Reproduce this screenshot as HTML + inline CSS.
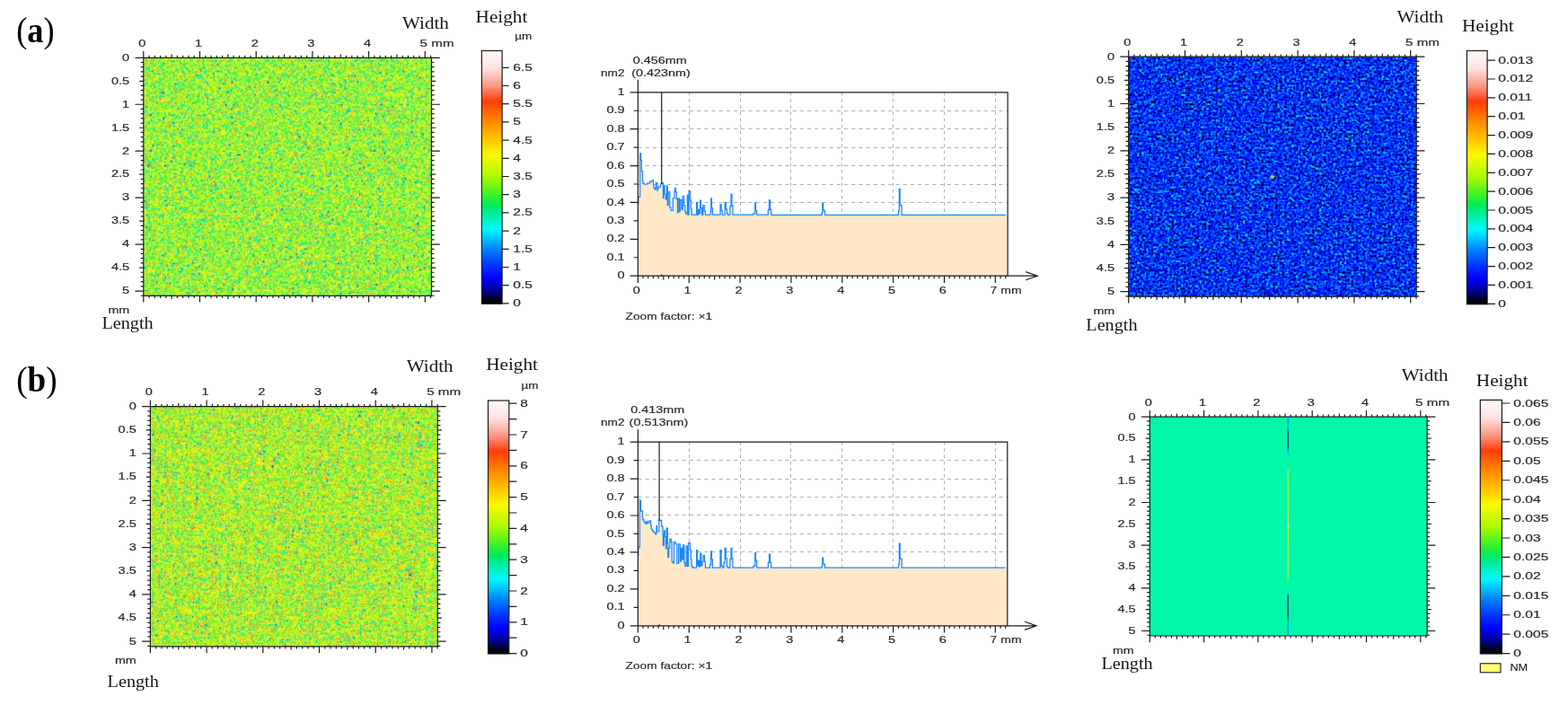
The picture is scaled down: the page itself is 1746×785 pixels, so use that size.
<!DOCTYPE html>
<html lang="en"><head><meta charset="utf-8"><title>Figure</title>
<style>
html,body{margin:0;padding:0;background:#fff;}
body{width:1746px;height:785px;overflow:hidden;}
svg{display:block;}
.t{font-family:"Liberation Sans",sans-serif;font-size:10.4px;fill:#2a2a2a;stroke:#2a2a2a;stroke-width:.18px;}
.s{font-family:"Liberation Serif",serif;font-size:18.7px;fill:#161616;}
.b{font-family:"Liberation Serif",serif;font-weight:bold;font-size:40px;fill:#000;}
.p{font-family:"Liberation Serif",serif;font-size:40px;fill:#000;}
.ax{stroke:#1c1c1c;stroke-width:1.2;fill:none;}
.gr{stroke:#b0b0b0;stroke-width:1;fill:none;}
</style></head><body>
<svg width="1746" height="785" viewBox="0 0 1746 785">
<defs>
<linearGradient id="jet" x1="0" y1="1" x2="0" y2="0">
<stop offset="0.0" stop-color="rgb(0,0,0)"/>
<stop offset="0.02" stop-color="rgb(0,0,30)"/>
<stop offset="0.05" stop-color="rgb(0,0,140)"/>
<stop offset="0.1" stop-color="rgb(0,0,255)"/>
<stop offset="0.14" stop-color="rgb(0,40,255)"/>
<stop offset="0.215" stop-color="rgb(0,130,255)"/>
<stop offset="0.295" stop-color="rgb(0,250,250)"/>
<stop offset="0.36" stop-color="rgb(0,235,150)"/>
<stop offset="0.39" stop-color="rgb(0,235,90)"/>
<stop offset="0.43" stop-color="rgb(60,240,40)"/>
<stop offset="0.5" stop-color="rgb(170,250,0)"/>
<stop offset="0.588" stop-color="rgb(250,250,0)"/>
<stop offset="0.645" stop-color="rgb(255,200,0)"/>
<stop offset="0.717" stop-color="rgb(255,140,0)"/>
<stop offset="0.8" stop-color="rgb(255,60,10)"/>
<stop offset="0.86" stop-color="rgb(250,150,130)"/>
<stop offset="0.93" stop-color="rgb(255,225,225)"/>
<stop offset="1.0" stop-color="rgb(255,250,250)"/>
</linearGradient>
<filter id="nA" x="0" y="0" width="100%" height="100%" color-interpolation-filters="sRGB">
<feTurbulence type="fractalNoise" baseFrequency="0.43" numOctaves="1" seed="7"/>
<feColorMatrix type="matrix" values="0.45 0.45 0.45 0 -0.18 0.45 0.45 0.45 0 -0.18 0.45 0.45 0.45 0 -0.18 0 0 0 0 1" result="n0"/>
<feOffset in="n0" result="s0"/>
<feTurbulence type="fractalNoise" baseFrequency="0.61" numOctaves="1" seed="19"/>
<feColorMatrix type="matrix" values="0.3 0.3 0.3 0 0.05 0.3 0.3 0.3 0 0.05 0.3 0.3 0.3 0 0.05 0 0 0 0 1" result="n1"/>
<feComposite in="n1" in2="s0" operator="arithmetic" k1="0" k2="1" k3="1" k4="-0.5" result="s1"/>
<feTurbulence type="fractalNoise" baseFrequency="0.23" numOctaves="1" seed="3"/>
<feColorMatrix type="matrix" values="0.18 0.18 0.18 0 0.23 0.18 0.18 0.18 0 0.23 0.18 0.18 0.18 0 0.23 0 0 0 0 1" result="n2"/>
<feComposite in="n2" in2="s1" operator="arithmetic" k1="0" k2="1" k3="1" k4="-0.5" result="s2"/>
<feTurbulence type="fractalNoise" baseFrequency="0.12" numOctaves="1" seed="5"/>
<feColorMatrix type="matrix" values="0.07 0.07 0.07 0 0.4 0.07 0.07 0.07 0 0.4 0.07 0.07 0.07 0 0.4 0 0 0 0 1" result="n3"/>
<feComposite in="n3" in2="s2" operator="arithmetic" k1="0" k2="1" k3="1" k4="-0.5" result="s3"/>
<feComponentTransfer result="c">
<feFuncR type="table" tableValues="0 0 0 0 0 0 0 0 0 0 0 0 0 0 0 0 0 0.103 0.266 0.435 0.605 0.729 0.827 0.925 0.985 0.994 1 1 1 1 1 1 0.993 0.984 0.985 0.992 1 1 1 1 1"/>
<feFuncG type="table" tableValues="0 0 0 0 0 0 0.018 0.126 0.25 0.379 0.509 0.67 0.832 0.978 0.953 0.928 0.922 0.93 0.944 0.959 0.975 0.98 0.98 0.98 0.939 0.844 0.751 0.661 0.571 0.471 0.367 0.263 0.354 0.516 0.652 0.768 0.883 0.921 0.96 0.98 0.98"/>
<feFuncB type="table" tableValues="0 0 0 0.149 0.544 0.794 1 1 1 1 1 0.993 0.987 0.966 0.8 0.634 0.432 0.267 0.146 0.084 0.022 0 0 0 0 0 0 0 0 0.01 0.023 0.036 0.198 0.414 0.591 0.738 0.883 0.921 0.96 0.98 0.98"/>
</feComponentTransfer>
<feConvolveMatrix order="3" kernelMatrix="0 1 0 1 5 1 0 1 0" divisor="9" edgeMode="duplicate" preserveAlpha="true" result="c"/>
<feGaussianBlur in="c" stdDeviation="1.0" result="b"/>
<feColorMatrix in="c" type="matrix" values="0 0 0 0 0 0 0 0 0 0 0 0 0 0 0 .299 .587 .114 0 0" result="y"/>
<feComposite in="b" in2="y" operator="in"/>
<feColorMatrix type="matrix" values="0.78 -0.44 -0.09 0.75 0.04 -0.22 0.56 -0.09 0.75 0.015 -0.22 -0.44 0.91 0.75 0.08 0 0 0 0 1"/>
</filter>
<filter id="nB" x="0" y="0" width="100%" height="100%" color-interpolation-filters="sRGB">
<feTurbulence type="fractalNoise" baseFrequency="0.43" numOctaves="1" seed="23"/>
<feColorMatrix type="matrix" values="0.45 0.45 0.45 0 -0.18 0.45 0.45 0.45 0 -0.18 0.45 0.45 0.45 0 -0.18 0 0 0 0 1" result="n0"/>
<feOffset in="n0" result="s0"/>
<feTurbulence type="fractalNoise" baseFrequency="0.61" numOctaves="1" seed="5"/>
<feColorMatrix type="matrix" values="0.3 0.3 0.3 0 0.05 0.3 0.3 0.3 0 0.05 0.3 0.3 0.3 0 0.05 0 0 0 0 1" result="n1"/>
<feComposite in="n1" in2="s0" operator="arithmetic" k1="0" k2="1" k3="1" k4="-0.5" result="s1"/>
<feTurbulence type="fractalNoise" baseFrequency="0.23" numOctaves="1" seed="13"/>
<feColorMatrix type="matrix" values="0.18 0.18 0.18 0 0.23 0.18 0.18 0.18 0 0.23 0.18 0.18 0.18 0 0.23 0 0 0 0 1" result="n2"/>
<feComposite in="n2" in2="s1" operator="arithmetic" k1="0" k2="1" k3="1" k4="-0.5" result="s2"/>
<feTurbulence type="fractalNoise" baseFrequency="0.12" numOctaves="1" seed="2"/>
<feColorMatrix type="matrix" values="0.07 0.07 0.07 0 0.4 0.07 0.07 0.07 0 0.4 0.07 0.07 0.07 0 0.4 0 0 0 0 1" result="n3"/>
<feComposite in="n3" in2="s2" operator="arithmetic" k1="0" k2="1" k3="1" k4="-0.5" result="s3"/>
<feComponentTransfer result="c">
<feFuncR type="table" tableValues="0 0 0 0 0 0 0 0 0 0 0 0 0 0 0 0 0.088 0.25 0.42 0.59 0.72 0.818 0.916 0.984 0.993 1 1 1 1 1 1 0.994 0.985 0.984 0.992 0.999 1 1 1 1 1"/>
<feFuncG type="table" tableValues="0 0 0 0 0 0.009 0.117 0.238 0.367 0.497 0.656 0.818 0.979 0.956 0.931 0.922 0.929 0.943 0.958 0.973 0.98 0.98 0.98 0.947 0.853 0.759 0.67 0.58 0.48 0.376 0.272 0.34 0.501 0.642 0.758 0.873 0.918 0.956 0.98 0.98 0.98"/>
<feFuncB type="table" tableValues="0 0 0.115 0.508 0.772 1 1 1 1 1 0.994 0.987 0.98 0.815 0.649 0.452 0.28 0.151 0.09 0.028 0 0 0 0 0 0 0 0 0.009 0.022 0.035 0.178 0.394 0.578 0.724 0.871 0.918 0.956 0.98 0.98 0.98"/>
</feComponentTransfer>
<feConvolveMatrix order="3" kernelMatrix="0 1 0 1 5 1 0 1 0" divisor="9" edgeMode="duplicate" preserveAlpha="true" result="c"/>
<feGaussianBlur in="c" stdDeviation="1.0" result="b"/>
<feColorMatrix in="c" type="matrix" values="0 0 0 0 0 0 0 0 0 0 0 0 0 0 0 .299 .587 .114 0 0" result="y"/>
<feComposite in="b" in2="y" operator="in"/>
<feColorMatrix type="matrix" values="0.78 -0.44 -0.09 0.75 0.04 -0.22 0.56 -0.09 0.75 0.015 -0.22 -0.44 0.91 0.75 0.08 0 0 0 0 1"/>
</filter>
<filter id="nC" x="0" y="0" width="100%" height="100%" color-interpolation-filters="sRGB">
<feTurbulence type="fractalNoise" baseFrequency="0.39" numOctaves="1" seed="3"/>
<feColorMatrix type="matrix" values="0.45 0.45 0.45 0 -0.18 0.45 0.45 0.45 0 -0.18 0.45 0.45 0.45 0 -0.18 0 0 0 0 1" result="n0"/>
<feOffset in="n0" result="s0"/>
<feTurbulence type="fractalNoise" baseFrequency="0.57" numOctaves="1" seed="9"/>
<feColorMatrix type="matrix" values="0.35 0.35 0.35 0 -0.02 0.35 0.35 0.35 0 -0.02 0.35 0.35 0.35 0 -0.02 0 0 0 0 1" result="n1"/>
<feComposite in="n1" in2="s0" operator="arithmetic" k1="0" k2="1" k3="1" k4="-0.5" result="s1"/>
<feTurbulence type="fractalNoise" baseFrequency="0.19" numOctaves="1" seed="4"/>
<feColorMatrix type="matrix" values="0.12 0.12 0.12 0 0.32 0.12 0.12 0.12 0 0.32 0.12 0.12 0.12 0 0.32 0 0 0 0 1" result="n2"/>
<feComposite in="n2" in2="s1" operator="arithmetic" k1="0" k2="1" k3="1" k4="-0.5" result="s2"/>
<feComponentTransfer result="c">
<feFuncR type="table" tableValues="0 0 0 0 0 0 0 0 0 0 0 0 0 0 0 0 0 0 0 0 0 0 0 0 0 0 0 0 0 0 0 0 0 0 0 0 0 0.009 0.096 0.183 0.272"/>
<feFuncG type="table" tableValues="0 0 0 0 0 0 0 0 0 0 0 0 0 0 0 0 0 0 0.041 0.099 0.157 0.226 0.296 0.366 0.435 0.505 0.591 0.678 0.765 0.852 0.939 0.973 0.96 0.947 0.933 0.922 0.922 0.922 0.93 0.937 0.945"/>
<feFuncB type="table" tableValues="0 0 0 0 0 0 0 0 0 0 0 0.04 0.141 0.354 0.56 0.693 0.827 0.96 1 1 1 1 1 1 1 1 0.997 0.993 0.989 0.986 0.982 0.934 0.844 0.755 0.666 0.573 0.457 0.345 0.273 0.2 0.144"/>
</feComponentTransfer>
<feConvolveMatrix order="3" kernelMatrix="0 1 0 1 5 1 0 1 0" divisor="9" edgeMode="duplicate" preserveAlpha="true" result="c"/>
</filter>
</defs>
<rect width="1746" height="785" fill="#fff"/>
<text transform="translate(18.2,47) scale(0.91,1)" class="p">(<tspan class="b">a</tspan>)</text>
<text transform="translate(18.2,436.2) scale(0.93,1)" class="p">(<tspan class="b">b</tspan>)</text>
<clipPath id="cnA"><rect x="159.8" y="64.3" width="320.7" height="265"/></clipPath>
<g clip-path="url(#cnA)"><rect x="151.8" y="56.3" width="336.7" height="281" filter="url(#nA)"/></g>
<path d="M159.8 64.3H480.5V329.3H159.8ZM159.8 64.3v-7.2M159.8 329.3v7.2M166.07 64.3v-2.6M166.07 329.3v2.6M172.34 64.3v-2.6M172.34 329.3v2.6M178.61 64.3v-2.6M178.61 329.3v2.6M184.88 64.3v-2.6M184.88 329.3v2.6M191.15 64.3v-3.8M191.15 329.3v3.8M197.42 64.3v-2.6M197.42 329.3v2.6M203.69 64.3v-2.6M203.69 329.3v2.6M209.96 64.3v-2.6M209.96 329.3v2.6M216.23 64.3v-2.6M216.23 329.3v2.6M222.5 64.3v-7.2M222.5 329.3v7.2M228.77 64.3v-2.6M228.77 329.3v2.6M235.04 64.3v-2.6M235.04 329.3v2.6M241.31 64.3v-2.6M241.31 329.3v2.6M247.58 64.3v-2.6M247.58 329.3v2.6M253.85 64.3v-3.8M253.85 329.3v3.8M260.12 64.3v-2.6M260.12 329.3v2.6M266.39 64.3v-2.6M266.39 329.3v2.6M272.66 64.3v-2.6M272.66 329.3v2.6M278.93 64.3v-2.6M278.93 329.3v2.6M285.2 64.3v-7.2M285.2 329.3v7.2M291.47 64.3v-2.6M291.47 329.3v2.6M297.74 64.3v-2.6M297.74 329.3v2.6M304.01 64.3v-2.6M304.01 329.3v2.6M310.28 64.3v-2.6M310.28 329.3v2.6M316.55 64.3v-3.8M316.55 329.3v3.8M322.82 64.3v-2.6M322.82 329.3v2.6M329.09 64.3v-2.6M329.09 329.3v2.6M335.36 64.3v-2.6M335.36 329.3v2.6M341.63 64.3v-2.6M341.63 329.3v2.6M347.9 64.3v-7.2M347.9 329.3v7.2M354.17 64.3v-2.6M354.17 329.3v2.6M360.44 64.3v-2.6M360.44 329.3v2.6M366.71 64.3v-2.6M366.71 329.3v2.6M372.98 64.3v-2.6M372.98 329.3v2.6M379.25 64.3v-3.8M379.25 329.3v3.8M385.52 64.3v-2.6M385.52 329.3v2.6M391.79 64.3v-2.6M391.79 329.3v2.6M398.06 64.3v-2.6M398.06 329.3v2.6M404.33 64.3v-2.6M404.33 329.3v2.6M410.6 64.3v-7.2M410.6 329.3v7.2M416.87 64.3v-2.6M416.87 329.3v2.6M423.14 64.3v-2.6M423.14 329.3v2.6M429.41 64.3v-2.6M429.41 329.3v2.6M435.68 64.3v-2.6M435.68 329.3v2.6M441.95 64.3v-3.8M441.95 329.3v3.8M448.22 64.3v-2.6M448.22 329.3v2.6M454.49 64.3v-2.6M454.49 329.3v2.6M460.76 64.3v-2.6M460.76 329.3v2.6M467.03 64.3v-2.6M467.03 329.3v2.6M473.3 64.3v-7.2M473.3 329.3v7.2M479.57 64.3v-2.6M479.57 329.3v2.6M159.8 64.3h-9.3M480.5 64.3h9.3M159.8 69.5h-3.1M480.5 69.5h3.1M159.8 74.69h-3.1M480.5 74.69h3.1M159.8 79.88h-3.1M480.5 79.88h3.1M159.8 85.08h-3.1M480.5 85.08h3.1M159.8 90.28h-4.6M480.5 90.28h4.6M159.8 95.47h-3.1M480.5 95.47h3.1M159.8 100.66h-3.1M480.5 100.66h3.1M159.8 105.86h-3.1M480.5 105.86h3.1M159.8 111.06h-3.1M480.5 111.06h3.1M159.8 116.25h-9.3M480.5 116.25h9.3M159.8 121.45h-3.1M480.5 121.45h3.1M159.8 126.64h-3.1M480.5 126.64h3.1M159.8 131.84h-3.1M480.5 131.84h3.1M159.8 137.03h-3.1M480.5 137.03h3.1M159.8 142.23h-4.6M480.5 142.23h4.6M159.8 147.42h-3.1M480.5 147.42h3.1M159.8 152.62h-3.1M480.5 152.62h3.1M159.8 157.81h-3.1M480.5 157.81h3.1M159.8 163h-3.1M480.5 163h3.1M159.8 168.2h-9.3M480.5 168.2h9.3M159.8 173.4h-3.1M480.5 173.4h3.1M159.8 178.59h-3.1M480.5 178.59h3.1M159.8 183.78h-3.1M480.5 183.78h3.1M159.8 188.98h-3.1M480.5 188.98h3.1M159.8 194.18h-4.6M480.5 194.18h4.6M159.8 199.37h-3.1M480.5 199.37h3.1M159.8 204.56h-3.1M480.5 204.56h3.1M159.8 209.76h-3.1M480.5 209.76h3.1M159.8 214.95h-3.1M480.5 214.95h3.1M159.8 220.15h-9.3M480.5 220.15h9.3M159.8 225.35h-3.1M480.5 225.35h3.1M159.8 230.54h-3.1M480.5 230.54h3.1M159.8 235.74h-3.1M480.5 235.74h3.1M159.8 240.93h-3.1M480.5 240.93h3.1M159.8 246.12h-4.6M480.5 246.12h4.6M159.8 251.32h-3.1M480.5 251.32h3.1M159.8 256.52h-3.1M480.5 256.52h3.1M159.8 261.71h-3.1M480.5 261.71h3.1M159.8 266.91h-3.1M480.5 266.91h3.1M159.8 272.1h-9.3M480.5 272.1h9.3M159.8 277.3h-3.1M480.5 277.3h3.1M159.8 282.49h-3.1M480.5 282.49h3.1M159.8 287.69h-3.1M480.5 287.69h3.1M159.8 292.88h-3.1M480.5 292.88h3.1M159.8 298.07h-4.6M480.5 298.07h4.6M159.8 303.27h-3.1M480.5 303.27h3.1M159.8 308.47h-3.1M480.5 308.47h3.1M159.8 313.66h-3.1M480.5 313.66h3.1M159.8 318.86h-3.1M480.5 318.86h3.1M159.8 324.05h-9.3M480.5 324.05h9.3M159.8 329.25h-3.1M480.5 329.25h3.1" class="ax" stroke-width="1.3"/>
<text transform="translate(158.3,52) scale(1.4,1)" class="t" text-anchor="middle">0</text>
<text transform="translate(221,52) scale(1.4,1)" class="t" text-anchor="middle">1</text>
<text transform="translate(283.7,52) scale(1.4,1)" class="t" text-anchor="middle">2</text>
<text transform="translate(346.4,52) scale(1.4,1)" class="t" text-anchor="middle">3</text>
<text transform="translate(409.1,52) scale(1.4,1)" class="t" text-anchor="middle">4</text>
<text x="467.6" y="52" class="t" textLength="38" lengthAdjust="spacingAndGlyphs">5 mm</text>
<text transform="translate(144.2,67.6) scale(1.4,1)" class="t" text-anchor="end">0</text>
<text transform="translate(144.2,93.58) scale(1.4,1)" class="t" text-anchor="end">0.5</text>
<text transform="translate(144.2,119.55) scale(1.4,1)" class="t" text-anchor="end">1</text>
<text transform="translate(144.2,145.53) scale(1.4,1)" class="t" text-anchor="end">1.5</text>
<text transform="translate(144.2,171.5) scale(1.4,1)" class="t" text-anchor="end">2</text>
<text transform="translate(144.2,197.48) scale(1.4,1)" class="t" text-anchor="end">2.5</text>
<text transform="translate(144.2,223.45) scale(1.4,1)" class="t" text-anchor="end">3</text>
<text transform="translate(144.2,249.43) scale(1.4,1)" class="t" text-anchor="end">3.5</text>
<text transform="translate(144.2,275.4) scale(1.4,1)" class="t" text-anchor="end">4</text>
<text transform="translate(144.2,301.38) scale(1.4,1)" class="t" text-anchor="end">4.5</text>
<text transform="translate(144.2,327.35) scale(1.4,1)" class="t" text-anchor="end">5</text>
<text x="448" y="31.5" class="s" textLength="51.8" lengthAdjust="spacingAndGlyphs">Width</text>
<text x="529.6" y="25.1" class="s" textLength="57.8" lengthAdjust="spacingAndGlyphs">Height</text>
<text x="573.3" y="43.9" class="t" textLength="19" lengthAdjust="spacingAndGlyphs">µm</text>
<text x="120.4" y="348.5" class="t" textLength="23.8" lengthAdjust="spacingAndGlyphs">mm</text>
<text x="113.4" y="366" class="s" textLength="57.2" lengthAdjust="spacingAndGlyphs">Length</text>
<rect x="536.4" y="56.5" width="22.7" height="281.8" fill="url(#jet)" stroke="#1c1c1c" stroke-width="1.2"/>
<text transform="translate(571.3,341.4) scale(1.5,1)" class="t">0</text>
<text transform="translate(571.3,321.2) scale(1.5,1)" class="t">0.5</text>
<text transform="translate(571.3,301) scale(1.5,1)" class="t">1</text>
<text transform="translate(571.3,280.8) scale(1.5,1)" class="t">1.5</text>
<text transform="translate(571.3,260.6) scale(1.5,1)" class="t">2</text>
<text transform="translate(571.3,240.4) scale(1.5,1)" class="t">2.5</text>
<text transform="translate(571.3,220.2) scale(1.5,1)" class="t">3</text>
<text transform="translate(571.3,200) scale(1.5,1)" class="t">3.5</text>
<text transform="translate(571.3,179.8) scale(1.5,1)" class="t">4</text>
<text transform="translate(571.3,159.6) scale(1.5,1)" class="t">4.5</text>
<text transform="translate(571.3,139.4) scale(1.5,1)" class="t">5</text>
<text transform="translate(571.3,119.2) scale(1.5,1)" class="t">5.5</text>
<text transform="translate(571.3,99) scale(1.5,1)" class="t">6</text>
<text transform="translate(571.3,78.8) scale(1.5,1)" class="t">6.5</text>
<path d="M559.1 337.9h7.6M559.1 317.7h7.6M559.1 297.5h7.6M559.1 277.3h7.6M559.1 257.1h7.6M559.1 236.9h7.6M559.1 216.7h7.6M559.1 196.5h7.6M559.1 176.3h7.6M559.1 156.1h7.6M559.1 135.9h7.6M559.1 115.7h7.6M559.1 95.5h7.6M559.1 75.3h7.6" class="ax"/>
<path d="M710.4 286.5H1122.1M710.4 266.5H1122.1M710.4 245.5H1122.1M710.4 225.5H1122.1M710.4 205.5H1122.1M710.4 184.5H1122.1M710.4 164.5H1122.1M710.4 143.5H1122.1M710.4 123.5H1122.1" class="gr" stroke-dasharray="4.2 4"/>
<path d="M767.5 102.8V307.2M824.5 102.8V307.2M880.5 102.8V307.2M937.5 102.8V307.2M994.5 102.8V307.2M1051.5 102.8V307.2M1108.5 102.8V307.2" class="gr" stroke-dasharray="3.6 3.6"/>
<path d="M710.4 307.2V227.62L710.89 227.62V219.6H711.46V219.03H712.61V170.89H712.61V170.89H713.52V178.34H713.75V178.34H714.44V190.95H714.67V190.95H715.47V201.26H715.82V204.13H717.19V205.27H720.63V204.13H723.5V202.41H724.07V201.83H726.93V200.69H727.51V205.85H728.08V209.28H729.23V211H730.37V203.55H731.17V203.55H731.86V212.15H732.32V209.86H733.24V208.14H735.53V204.7H736.68V203.55H738.4V220.74H738.97V206.42H740.11V216.16H741.26V221.89H742.41V206.99H743.32V228.77H744.13V213.87H745.85V231.06H746.99V234.5H749.28V220.74H751V212.72H751.58V209.28H752.49V213.87H753.3V221.89H754.44V236.79H755.01V220.74H756.39V235.64H757.31V222.46H759.03V233.35H760.17V218.45H761.66V228.77H762.81V235.64H763.61V237.94H765.33V217.31H765.9V239.08H767.05V212.72H768.42V223.04H769.34V232.78H770.14V239.08H771.06V239.08H775.64V225.33H776.56V239.08H777.36V233.35H778.51V237.94H779.66V223.04H780.46V231.63H781.6V239.08H782.75V228.77H784.24V235.07H785.39V239.08H786.19V239.08H791.12V235.64H791.69V220.74H792.49V231.63H793.41V239.08H794.21V239.08H802.01V227.62H803.15V234.5H804.3V239.08H805.44V239.08H807.16V225.33H808.31V232.78H809.46V237.94H810.6V239.08H812.89V229.91H814.04V216.16H814.96V228.77H815.99V239.08H816.68V239.08H838.68V237.94H840.74V225.9H841.55V234.5H842.69V239.08H843.5V239.08H855.3V233.35H856.45V222.81H857.59V233.35H858.74V239.08H859.89V239.3H900V239.3H915V237.35H915.8V226.3H916.7V234.1H917.5V234.75H918.6V239.3H919.2V239.3H1000.5V234.95H1001.3V210.3H1002.2V227.7H1003V229.15H1004.1V239.3H1004.7V239.3H1119.8H1122.1V307.2Z" fill="#ffe8c8"/>
<path d="M710.89 227.62V219.6H711.46V219.03H712.61V170.89H712.61V170.89H713.52V178.34H713.75V178.34H714.44V190.95H714.67V190.95H715.47V201.26H715.82V204.13H717.19V205.27H720.63V204.13H723.5V202.41H724.07V201.83H726.93V200.69H727.51V205.85H728.08V209.28H729.23V211H730.37V203.55H731.17V203.55H731.86V212.15H732.32V209.86H733.24V208.14H735.53V204.7H736.68V203.55H738.4V220.74H738.97V206.42H740.11V216.16H741.26V221.89H742.41V206.99H743.32V228.77H744.13V213.87H745.85V231.06H746.99V234.5H749.28V220.74H751V212.72H751.58V209.28H752.49V213.87H753.3V221.89H754.44V236.79H755.01V220.74H756.39V235.64H757.31V222.46H759.03V233.35H760.17V218.45H761.66V228.77H762.81V235.64H763.61V237.94H765.33V217.31H765.9V239.08H767.05V212.72H768.42V223.04H769.34V232.78H770.14V239.08H771.06V239.08H775.64V225.33H776.56V239.08H777.36V233.35H778.51V237.94H779.66V223.04H780.46V231.63H781.6V239.08H782.75V228.77H784.24V235.07H785.39V239.08H786.19V239.08H791.12V235.64H791.69V220.74H792.49V231.63H793.41V239.08H794.21V239.08H802.01V227.62H803.15V234.5H804.3V239.08H805.44V239.08H807.16V225.33H808.31V232.78H809.46V237.94H810.6V239.08H812.89V229.91H814.04V216.16H814.96V228.77H815.99V239.08H816.68V239.08H838.68V237.94H840.74V225.9H841.55V234.5H842.69V239.08H843.5V239.08H855.3V233.35H856.45V222.81H857.59V233.35H858.74V239.08H859.89V239.3H900V239.3H915V237.35H915.8V226.3H916.7V234.1H917.5V234.75H918.6V239.3H919.2V239.3H1000.5V234.95H1001.3V210.3H1002.2V227.7H1003V229.15H1004.1V239.3H1004.7V239.3H1119.8" fill="none" stroke="#1787ff" stroke-width="1.2" stroke-linejoin="miter"/>
<path d="M710.4 88.7V314.9M701.6 307.2H1155.2M701.6 102.8H1122.1V307.2M1142.2 302.6L1155.2 307.2L1142.2 311.8M710.4 286.76h-4.7M710.4 266.32h-8.8M710.4 245.88h-4.7M710.4 225.44h-8.8M710.4 205h-4.7M710.4 184.56h-8.8M710.4 164.12h-4.7M710.4 143.68h-8.8M710.4 123.24h-4.7M716.08 307.2v3M721.77 307.2v3M727.45 307.2v3M733.14 307.2v3M738.82 307.2v4.4M744.51 307.2v3M750.19 307.2v3M755.88 307.2v3M761.56 307.2v3M767.25 307.2v7.7M772.93 307.2v3M778.62 307.2v3M784.3 307.2v3M789.99 307.2v3M795.67 307.2v4.4M801.36 307.2v3M807.04 307.2v3M812.73 307.2v3M818.41 307.2v3M824.1 307.2v7.7M829.78 307.2v3M835.47 307.2v3M841.15 307.2v3M846.84 307.2v3M852.52 307.2v4.4M858.21 307.2v3M863.89 307.2v3M869.58 307.2v3M875.26 307.2v3M880.95 307.2v7.7M886.63 307.2v3M892.32 307.2v3M898 307.2v3M903.69 307.2v3M909.38 307.2v4.4M915.06 307.2v3M920.75 307.2v3M926.43 307.2v3M932.12 307.2v3M937.8 307.2v7.7M943.48 307.2v3M949.17 307.2v3M954.86 307.2v3M960.54 307.2v3M966.23 307.2v4.4M971.91 307.2v3M977.6 307.2v3M983.28 307.2v3M988.97 307.2v3M994.65 307.2v7.7M1000.34 307.2v3M1006.02 307.2v3M1011.7 307.2v3M1017.39 307.2v3M1023.08 307.2v4.4M1028.76 307.2v3M1034.44 307.2v3M1040.13 307.2v3M1045.82 307.2v3M1051.5 307.2v7.7M1057.18 307.2v3M1062.87 307.2v3M1068.55 307.2v3M1074.24 307.2v3M1079.92 307.2v4.4M1085.61 307.2v3M1091.3 307.2v3M1096.98 307.2v3M1102.66 307.2v3M1108.35 307.2v7.7M1114.03 307.2v3M1119.72 307.2v3M736.7 102.8V205M736.7 305.6V307.2" class="ax" stroke-width="1.15"/>
<text transform="translate(695.7,310.3) scale(1.4,1)" class="t" text-anchor="end">0</text>
<text transform="translate(695.7,289.86) scale(1.4,1)" class="t" text-anchor="end">0.1</text>
<text transform="translate(695.7,269.42) scale(1.4,1)" class="t" text-anchor="end">0.2</text>
<text transform="translate(695.7,248.98) scale(1.4,1)" class="t" text-anchor="end">0.3</text>
<text transform="translate(695.7,228.54) scale(1.4,1)" class="t" text-anchor="end">0.4</text>
<text transform="translate(695.7,208.1) scale(1.4,1)" class="t" text-anchor="end">0.5</text>
<text transform="translate(695.7,187.66) scale(1.4,1)" class="t" text-anchor="end">0.6</text>
<text transform="translate(695.7,167.22) scale(1.4,1)" class="t" text-anchor="end">0.7</text>
<text transform="translate(695.7,146.78) scale(1.4,1)" class="t" text-anchor="end">0.8</text>
<text transform="translate(695.7,126.34) scale(1.4,1)" class="t" text-anchor="end">0.9</text>
<text transform="translate(695.7,105.9) scale(1.4,1)" class="t" text-anchor="end">1</text>
<text transform="translate(708.8,326.5) scale(1.4,1)" class="t" text-anchor="middle">0</text>
<text transform="translate(765.65,326.5) scale(1.4,1)" class="t" text-anchor="middle">1</text>
<text transform="translate(822.5,326.5) scale(1.4,1)" class="t" text-anchor="middle">2</text>
<text transform="translate(879.35,326.5) scale(1.4,1)" class="t" text-anchor="middle">3</text>
<text transform="translate(936.2,326.5) scale(1.4,1)" class="t" text-anchor="middle">4</text>
<text transform="translate(993.05,326.5) scale(1.4,1)" class="t" text-anchor="middle">5</text>
<text transform="translate(1049.9,326.5) scale(1.4,1)" class="t" text-anchor="middle">6</text>
<text x="1102.55" y="326.5" class="t" textLength="35" lengthAdjust="spacingAndGlyphs">7 mm</text>
<text x="704.8" y="70.6" class="t" textLength="60" lengthAdjust="spacingAndGlyphs">0.456mm</text>
<text x="669" y="85.1" class="t" textLength="26.5" lengthAdjust="spacingAndGlyphs">nm2</text>
<text x="703.2" y="85.1" class="t" textLength="65.6" lengthAdjust="spacingAndGlyphs">(0.423nm)</text>
<text x="696.6" y="355.7" class="t" textLength="96.5" lengthAdjust="spacingAndGlyphs">Zoom factor: ×1</text>
<clipPath id="cnC"><rect x="1256.7" y="63.2" width="320.5" height="267"/></clipPath>
<g clip-path="url(#cnC)"><rect x="1248.7" y="55.2" width="336.5" height="283" filter="url(#nC)"/></g>
<path d="M1256.7 63.2H1577.2V330.2H1256.7ZM1256.7 63.2v-7.2M1256.7 330.2v7.2M1262.98 63.2v-2.6M1262.98 330.2v2.6M1269.26 63.2v-2.6M1269.26 330.2v2.6M1275.54 63.2v-2.6M1275.54 330.2v2.6M1281.82 63.2v-2.6M1281.82 330.2v2.6M1288.1 63.2v-3.8M1288.1 330.2v3.8M1294.38 63.2v-2.6M1294.38 330.2v2.6M1300.66 63.2v-2.6M1300.66 330.2v2.6M1306.94 63.2v-2.6M1306.94 330.2v2.6M1313.22 63.2v-2.6M1313.22 330.2v2.6M1319.5 63.2v-7.2M1319.5 330.2v7.2M1325.78 63.2v-2.6M1325.78 330.2v2.6M1332.06 63.2v-2.6M1332.06 330.2v2.6M1338.34 63.2v-2.6M1338.34 330.2v2.6M1344.62 63.2v-2.6M1344.62 330.2v2.6M1350.9 63.2v-3.8M1350.9 330.2v3.8M1357.18 63.2v-2.6M1357.18 330.2v2.6M1363.46 63.2v-2.6M1363.46 330.2v2.6M1369.74 63.2v-2.6M1369.74 330.2v2.6M1376.02 63.2v-2.6M1376.02 330.2v2.6M1382.3 63.2v-7.2M1382.3 330.2v7.2M1388.58 63.2v-2.6M1388.58 330.2v2.6M1394.86 63.2v-2.6M1394.86 330.2v2.6M1401.14 63.2v-2.6M1401.14 330.2v2.6M1407.42 63.2v-2.6M1407.42 330.2v2.6M1413.7 63.2v-3.8M1413.7 330.2v3.8M1419.98 63.2v-2.6M1419.98 330.2v2.6M1426.26 63.2v-2.6M1426.26 330.2v2.6M1432.54 63.2v-2.6M1432.54 330.2v2.6M1438.82 63.2v-2.6M1438.82 330.2v2.6M1445.1 63.2v-7.2M1445.1 330.2v7.2M1451.38 63.2v-2.6M1451.38 330.2v2.6M1457.66 63.2v-2.6M1457.66 330.2v2.6M1463.94 63.2v-2.6M1463.94 330.2v2.6M1470.22 63.2v-2.6M1470.22 330.2v2.6M1476.5 63.2v-3.8M1476.5 330.2v3.8M1482.78 63.2v-2.6M1482.78 330.2v2.6M1489.06 63.2v-2.6M1489.06 330.2v2.6M1495.34 63.2v-2.6M1495.34 330.2v2.6M1501.62 63.2v-2.6M1501.62 330.2v2.6M1507.9 63.2v-7.2M1507.9 330.2v7.2M1514.18 63.2v-2.6M1514.18 330.2v2.6M1520.46 63.2v-2.6M1520.46 330.2v2.6M1526.74 63.2v-2.6M1526.74 330.2v2.6M1533.02 63.2v-2.6M1533.02 330.2v2.6M1539.3 63.2v-3.8M1539.3 330.2v3.8M1545.58 63.2v-2.6M1545.58 330.2v2.6M1551.86 63.2v-2.6M1551.86 330.2v2.6M1558.14 63.2v-2.6M1558.14 330.2v2.6M1564.42 63.2v-2.6M1564.42 330.2v2.6M1570.7 63.2v-7.2M1570.7 330.2v7.2M1576.98 63.2v-2.6M1576.98 330.2v2.6M1256.7 63.2h-9.3M1577.2 63.2h9.3M1256.7 68.43h-3.1M1577.2 68.43h3.1M1256.7 73.66h-3.1M1577.2 73.66h3.1M1256.7 78.89h-3.1M1577.2 78.89h3.1M1256.7 84.12h-3.1M1577.2 84.12h3.1M1256.7 89.35h-4.6M1577.2 89.35h4.6M1256.7 94.58h-3.1M1577.2 94.58h3.1M1256.7 99.81h-3.1M1577.2 99.81h3.1M1256.7 105.04h-3.1M1577.2 105.04h3.1M1256.7 110.27h-3.1M1577.2 110.27h3.1M1256.7 115.5h-9.3M1577.2 115.5h9.3M1256.7 120.73h-3.1M1577.2 120.73h3.1M1256.7 125.96h-3.1M1577.2 125.96h3.1M1256.7 131.19h-3.1M1577.2 131.19h3.1M1256.7 136.42h-3.1M1577.2 136.42h3.1M1256.7 141.65h-4.6M1577.2 141.65h4.6M1256.7 146.88h-3.1M1577.2 146.88h3.1M1256.7 152.11h-3.1M1577.2 152.11h3.1M1256.7 157.34h-3.1M1577.2 157.34h3.1M1256.7 162.57h-3.1M1577.2 162.57h3.1M1256.7 167.8h-9.3M1577.2 167.8h9.3M1256.7 173.03h-3.1M1577.2 173.03h3.1M1256.7 178.26h-3.1M1577.2 178.26h3.1M1256.7 183.49h-3.1M1577.2 183.49h3.1M1256.7 188.72h-3.1M1577.2 188.72h3.1M1256.7 193.95h-4.6M1577.2 193.95h4.6M1256.7 199.18h-3.1M1577.2 199.18h3.1M1256.7 204.41h-3.1M1577.2 204.41h3.1M1256.7 209.64h-3.1M1577.2 209.64h3.1M1256.7 214.87h-3.1M1577.2 214.87h3.1M1256.7 220.1h-9.3M1577.2 220.1h9.3M1256.7 225.33h-3.1M1577.2 225.33h3.1M1256.7 230.56h-3.1M1577.2 230.56h3.1M1256.7 235.79h-3.1M1577.2 235.79h3.1M1256.7 241.02h-3.1M1577.2 241.02h3.1M1256.7 246.25h-4.6M1577.2 246.25h4.6M1256.7 251.48h-3.1M1577.2 251.48h3.1M1256.7 256.71h-3.1M1577.2 256.71h3.1M1256.7 261.94h-3.1M1577.2 261.94h3.1M1256.7 267.17h-3.1M1577.2 267.17h3.1M1256.7 272.4h-9.3M1577.2 272.4h9.3M1256.7 277.63h-3.1M1577.2 277.63h3.1M1256.7 282.86h-3.1M1577.2 282.86h3.1M1256.7 288.09h-3.1M1577.2 288.09h3.1M1256.7 293.32h-3.1M1577.2 293.32h3.1M1256.7 298.55h-4.6M1577.2 298.55h4.6M1256.7 303.78h-3.1M1577.2 303.78h3.1M1256.7 309.01h-3.1M1577.2 309.01h3.1M1256.7 314.24h-3.1M1577.2 314.24h3.1M1256.7 319.47h-3.1M1577.2 319.47h3.1M1256.7 324.7h-9.3M1577.2 324.7h9.3M1256.7 329.93h-3.1M1577.2 329.93h3.1" class="ax" stroke-width="1.3"/>
<text transform="translate(1255.2,50.9) scale(1.4,1)" class="t" text-anchor="middle">0</text>
<text transform="translate(1318,50.9) scale(1.4,1)" class="t" text-anchor="middle">1</text>
<text transform="translate(1380.8,50.9) scale(1.4,1)" class="t" text-anchor="middle">2</text>
<text transform="translate(1443.6,50.9) scale(1.4,1)" class="t" text-anchor="middle">3</text>
<text transform="translate(1506.4,50.9) scale(1.4,1)" class="t" text-anchor="middle">4</text>
<text x="1565" y="50.9" class="t" textLength="38" lengthAdjust="spacingAndGlyphs">5 mm</text>
<text transform="translate(1241.1,66.5) scale(1.4,1)" class="t" text-anchor="end">0</text>
<text transform="translate(1241.1,92.65) scale(1.4,1)" class="t" text-anchor="end">0.5</text>
<text transform="translate(1241.1,118.8) scale(1.4,1)" class="t" text-anchor="end">1</text>
<text transform="translate(1241.1,144.95) scale(1.4,1)" class="t" text-anchor="end">1.5</text>
<text transform="translate(1241.1,171.1) scale(1.4,1)" class="t" text-anchor="end">2</text>
<text transform="translate(1241.1,197.25) scale(1.4,1)" class="t" text-anchor="end">2.5</text>
<text transform="translate(1241.1,223.4) scale(1.4,1)" class="t" text-anchor="end">3</text>
<text transform="translate(1241.1,249.55) scale(1.4,1)" class="t" text-anchor="end">3.5</text>
<text transform="translate(1241.1,275.7) scale(1.4,1)" class="t" text-anchor="end">4</text>
<text transform="translate(1241.1,301.85) scale(1.4,1)" class="t" text-anchor="end">4.5</text>
<text transform="translate(1241.1,328) scale(1.4,1)" class="t" text-anchor="end">5</text>
<ellipse cx="1416.6" cy="197" rx="2.4" ry="1.9" fill="#7fe07a"/><ellipse cx="1416.6" cy="197" rx="1.5" ry="1.1" fill="#f0b020"/>
<text x="1555.6" y="25.1" class="s" textLength="51.8" lengthAdjust="spacingAndGlyphs">Width</text>
<text x="1627.9" y="35.1" class="s" textLength="57.8" lengthAdjust="spacingAndGlyphs">Height</text>
<text x="1217.4" y="349.5" class="t" textLength="23.8" lengthAdjust="spacingAndGlyphs">mm</text>
<text x="1209.3" y="368.1" class="s" textLength="57.2" lengthAdjust="spacingAndGlyphs">Length</text>
<rect x="1633.4" y="56.5" width="22.7" height="282.3" fill="url(#jet)" stroke="#1c1c1c" stroke-width="1.2"/>
<text transform="translate(1668.2,341.8) scale(1.5,1)" class="t">0</text>
<text transform="translate(1668.2,320.94) scale(1.5,1)" class="t">0.001</text>
<text transform="translate(1668.2,300.08) scale(1.5,1)" class="t">0.002</text>
<text transform="translate(1668.2,279.22) scale(1.5,1)" class="t">0.003</text>
<text transform="translate(1668.2,258.36) scale(1.5,1)" class="t">0.004</text>
<text transform="translate(1668.2,237.5) scale(1.5,1)" class="t">0.005</text>
<text transform="translate(1668.2,216.64) scale(1.5,1)" class="t">0.006</text>
<text transform="translate(1668.2,195.78) scale(1.5,1)" class="t">0.007</text>
<text transform="translate(1668.2,174.92) scale(1.5,1)" class="t">0.008</text>
<text transform="translate(1668.2,154.06) scale(1.5,1)" class="t">0.009</text>
<text transform="translate(1668.2,133.2) scale(1.5,1)" class="t">0.01</text>
<text transform="translate(1668.2,112.34) scale(1.5,1)" class="t">0.011</text>
<text transform="translate(1668.2,91.48) scale(1.5,1)" class="t">0.012</text>
<text transform="translate(1668.2,70.62) scale(1.5,1)" class="t">0.013</text>
<path d="M1656.1 338.3h8.8M1656.1 317.44h8.8M1656.1 296.58h8.8M1656.1 275.72h8.8M1656.1 254.86h8.8M1656.1 234h8.8M1656.1 213.14h8.8M1656.1 192.28h8.8M1656.1 171.42h8.8M1656.1 150.56h8.8M1656.1 129.7h8.8M1656.1 108.84h8.8M1656.1 87.98h8.8M1656.1 67.12h8.8" class="ax"/>
<clipPath id="cnB"><rect x="167.4" y="452.7" width="319.9" height="267.1"/></clipPath>
<g clip-path="url(#cnB)"><rect x="159.4" y="444.7" width="335.9" height="283.1" filter="url(#nB)"/></g>
<path d="M167.4 452.7H487.3V719.8H167.4ZM167.4 452.7v-7.2M167.4 719.8v7.2M173.67 452.7v-2.6M173.67 719.8v2.6M179.94 452.7v-2.6M179.94 719.8v2.6M186.21 452.7v-2.6M186.21 719.8v2.6M192.48 452.7v-2.6M192.48 719.8v2.6M198.75 452.7v-3.8M198.75 719.8v3.8M205.02 452.7v-2.6M205.02 719.8v2.6M211.29 452.7v-2.6M211.29 719.8v2.6M217.56 452.7v-2.6M217.56 719.8v2.6M223.83 452.7v-2.6M223.83 719.8v2.6M230.1 452.7v-7.2M230.1 719.8v7.2M236.37 452.7v-2.6M236.37 719.8v2.6M242.64 452.7v-2.6M242.64 719.8v2.6M248.91 452.7v-2.6M248.91 719.8v2.6M255.18 452.7v-2.6M255.18 719.8v2.6M261.45 452.7v-3.8M261.45 719.8v3.8M267.72 452.7v-2.6M267.72 719.8v2.6M273.99 452.7v-2.6M273.99 719.8v2.6M280.26 452.7v-2.6M280.26 719.8v2.6M286.53 452.7v-2.6M286.53 719.8v2.6M292.8 452.7v-7.2M292.8 719.8v7.2M299.07 452.7v-2.6M299.07 719.8v2.6M305.34 452.7v-2.6M305.34 719.8v2.6M311.61 452.7v-2.6M311.61 719.8v2.6M317.88 452.7v-2.6M317.88 719.8v2.6M324.15 452.7v-3.8M324.15 719.8v3.8M330.42 452.7v-2.6M330.42 719.8v2.6M336.69 452.7v-2.6M336.69 719.8v2.6M342.96 452.7v-2.6M342.96 719.8v2.6M349.23 452.7v-2.6M349.23 719.8v2.6M355.5 452.7v-7.2M355.5 719.8v7.2M361.77 452.7v-2.6M361.77 719.8v2.6M368.04 452.7v-2.6M368.04 719.8v2.6M374.31 452.7v-2.6M374.31 719.8v2.6M380.58 452.7v-2.6M380.58 719.8v2.6M386.85 452.7v-3.8M386.85 719.8v3.8M393.12 452.7v-2.6M393.12 719.8v2.6M399.39 452.7v-2.6M399.39 719.8v2.6M405.66 452.7v-2.6M405.66 719.8v2.6M411.93 452.7v-2.6M411.93 719.8v2.6M418.2 452.7v-7.2M418.2 719.8v7.2M424.47 452.7v-2.6M424.47 719.8v2.6M430.74 452.7v-2.6M430.74 719.8v2.6M437.01 452.7v-2.6M437.01 719.8v2.6M443.28 452.7v-2.6M443.28 719.8v2.6M449.55 452.7v-3.8M449.55 719.8v3.8M455.82 452.7v-2.6M455.82 719.8v2.6M462.09 452.7v-2.6M462.09 719.8v2.6M468.36 452.7v-2.6M468.36 719.8v2.6M474.63 452.7v-2.6M474.63 719.8v2.6M480.9 452.7v-7.2M480.9 719.8v7.2M487.17 452.7v-2.6M487.17 719.8v2.6M167.4 452.7h-9.3M487.3 452.7h9.3M167.4 457.93h-3.1M487.3 457.93h3.1M167.4 463.16h-3.1M487.3 463.16h3.1M167.4 468.39h-3.1M487.3 468.39h3.1M167.4 473.62h-3.1M487.3 473.62h3.1M167.4 478.85h-4.6M487.3 478.85h4.6M167.4 484.08h-3.1M487.3 484.08h3.1M167.4 489.31h-3.1M487.3 489.31h3.1M167.4 494.54h-3.1M487.3 494.54h3.1M167.4 499.77h-3.1M487.3 499.77h3.1M167.4 505h-9.3M487.3 505h9.3M167.4 510.23h-3.1M487.3 510.23h3.1M167.4 515.46h-3.1M487.3 515.46h3.1M167.4 520.69h-3.1M487.3 520.69h3.1M167.4 525.92h-3.1M487.3 525.92h3.1M167.4 531.15h-4.6M487.3 531.15h4.6M167.4 536.38h-3.1M487.3 536.38h3.1M167.4 541.61h-3.1M487.3 541.61h3.1M167.4 546.84h-3.1M487.3 546.84h3.1M167.4 552.07h-3.1M487.3 552.07h3.1M167.4 557.3h-9.3M487.3 557.3h9.3M167.4 562.53h-3.1M487.3 562.53h3.1M167.4 567.76h-3.1M487.3 567.76h3.1M167.4 572.99h-3.1M487.3 572.99h3.1M167.4 578.22h-3.1M487.3 578.22h3.1M167.4 583.45h-4.6M487.3 583.45h4.6M167.4 588.68h-3.1M487.3 588.68h3.1M167.4 593.91h-3.1M487.3 593.91h3.1M167.4 599.14h-3.1M487.3 599.14h3.1M167.4 604.37h-3.1M487.3 604.37h3.1M167.4 609.6h-9.3M487.3 609.6h9.3M167.4 614.83h-3.1M487.3 614.83h3.1M167.4 620.06h-3.1M487.3 620.06h3.1M167.4 625.29h-3.1M487.3 625.29h3.1M167.4 630.52h-3.1M487.3 630.52h3.1M167.4 635.75h-4.6M487.3 635.75h4.6M167.4 640.98h-3.1M487.3 640.98h3.1M167.4 646.21h-3.1M487.3 646.21h3.1M167.4 651.44h-3.1M487.3 651.44h3.1M167.4 656.67h-3.1M487.3 656.67h3.1M167.4 661.9h-9.3M487.3 661.9h9.3M167.4 667.13h-3.1M487.3 667.13h3.1M167.4 672.36h-3.1M487.3 672.36h3.1M167.4 677.59h-3.1M487.3 677.59h3.1M167.4 682.82h-3.1M487.3 682.82h3.1M167.4 688.05h-4.6M487.3 688.05h4.6M167.4 693.28h-3.1M487.3 693.28h3.1M167.4 698.51h-3.1M487.3 698.51h3.1M167.4 703.74h-3.1M487.3 703.74h3.1M167.4 708.97h-3.1M487.3 708.97h3.1M167.4 714.2h-9.3M487.3 714.2h9.3M167.4 719.43h-3.1M487.3 719.43h3.1" class="ax" stroke-width="1.3"/>
<text transform="translate(165.9,440.4) scale(1.4,1)" class="t" text-anchor="middle">0</text>
<text transform="translate(228.6,440.4) scale(1.4,1)" class="t" text-anchor="middle">1</text>
<text transform="translate(291.3,440.4) scale(1.4,1)" class="t" text-anchor="middle">2</text>
<text transform="translate(354,440.4) scale(1.4,1)" class="t" text-anchor="middle">3</text>
<text transform="translate(416.7,440.4) scale(1.4,1)" class="t" text-anchor="middle">4</text>
<text x="475.2" y="440.4" class="t" textLength="38" lengthAdjust="spacingAndGlyphs">5 mm</text>
<text transform="translate(151.8,456) scale(1.4,1)" class="t" text-anchor="end">0</text>
<text transform="translate(151.8,482.15) scale(1.4,1)" class="t" text-anchor="end">0.5</text>
<text transform="translate(151.8,508.3) scale(1.4,1)" class="t" text-anchor="end">1</text>
<text transform="translate(151.8,534.45) scale(1.4,1)" class="t" text-anchor="end">1.5</text>
<text transform="translate(151.8,560.6) scale(1.4,1)" class="t" text-anchor="end">2</text>
<text transform="translate(151.8,586.75) scale(1.4,1)" class="t" text-anchor="end">2.5</text>
<text transform="translate(151.8,612.9) scale(1.4,1)" class="t" text-anchor="end">3</text>
<text transform="translate(151.8,639.05) scale(1.4,1)" class="t" text-anchor="end">3.5</text>
<text transform="translate(151.8,665.2) scale(1.4,1)" class="t" text-anchor="end">4</text>
<text transform="translate(151.8,691.35) scale(1.4,1)" class="t" text-anchor="end">4.5</text>
<text transform="translate(151.8,717.5) scale(1.4,1)" class="t" text-anchor="end">5</text>
<text x="452.8" y="413.7" class="s" textLength="51.8" lengthAdjust="spacingAndGlyphs">Width</text>
<text x="541.2" y="412.2" class="s" textLength="57.8" lengthAdjust="spacingAndGlyphs">Height</text>
<text x="580.5" y="433.3" class="t" textLength="19" lengthAdjust="spacingAndGlyphs">µm</text>
<text x="127.9" y="738.9" class="t" textLength="23.8" lengthAdjust="spacingAndGlyphs">mm</text>
<text x="119.6" y="764.7" class="s" textLength="57.2" lengthAdjust="spacingAndGlyphs">Length</text>
<rect x="543.5" y="446" width="23.3" height="282" fill="url(#jet)" stroke="#1c1c1c" stroke-width="1.2"/>
<text transform="translate(579.3,731.1) scale(1.5,1)" class="t">0</text>
<text transform="translate(579.3,696.3) scale(1.5,1)" class="t">1</text>
<text transform="translate(579.3,661.5) scale(1.5,1)" class="t">2</text>
<text transform="translate(579.3,626.7) scale(1.5,1)" class="t">3</text>
<text transform="translate(579.3,591.9) scale(1.5,1)" class="t">4</text>
<text transform="translate(579.3,557.1) scale(1.5,1)" class="t">5</text>
<text transform="translate(579.3,522.3) scale(1.5,1)" class="t">6</text>
<text transform="translate(579.3,487.5) scale(1.5,1)" class="t">7</text>
<text transform="translate(579.3,452.7) scale(1.5,1)" class="t">8</text>
<path d="M566.8 727.6h8.6M566.8 710.2h8.6M566.8 692.8h8.6M566.8 675.4h8.6M566.8 658h8.6M566.8 640.6h8.6M566.8 623.2h8.6M566.8 605.8h8.6M566.8 588.4h8.6M566.8 571h8.6M566.8 553.6h8.6M566.8 536.2h8.6M566.8 518.8h8.6M566.8 501.4h8.6M566.8 484h8.6M566.8 466.6h8.6M566.8 449.2h8.6" class="ax"/>
<path d="M710.4 676.5H1121.8M710.4 655.5H1121.8M710.4 635.5H1121.8M710.4 614.5H1121.8M710.4 594.5H1121.8M710.4 573.5H1121.8M710.4 553.5H1121.8M710.4 533.5H1121.8M710.4 512.5H1121.8" class="gr" stroke-dasharray="4.2 4"/>
<path d="M767.5 492.1V696.8M824.5 492.1V696.8M880.5 492.1V696.8M937.5 492.1V696.8M994.5 492.1V696.8M1051.5 492.1V696.8M1108.5 492.1V696.8" class="gr" stroke-dasharray="3.6 3.6"/>
<path d="M710.4 696.8V619.5L710.89 619.5V610.33H711.12V609.18H712.38V556.46H712.61V557.61H713.52V569.07H713.98V569.07H715.47V575.37H715.82V578.81H717.19V581.68H718.91V583.4H720.06V580.53H721.2V582.25H722.92V579.96H724.64V585.11H725.21V589.13H726.59V591.42H728.08V593.14H729.8V594.86H730.95V585.69H731.52V591.99H732.09V591.99H733.81V578.81H734.38V579.38H736.68V585.11H736.91V586.26H738.05V595.43H738.4V607.46H739.54V590.85H740.34V597.72H741.49V610.9H742.18V587.98H743.32V604.6H743.78V620.64H744.7V610.33H745.85V600.01H747.22V603.45H748.14V625.23H749.05V626.95H750.43V603.45H752.15V605.74H753.87V627.52H755.59V605.74H757.31V625.23H758.45V610.33H759.6V622.94H760.74V606.89H761.89V626.38H762.81V630.39H764.18V608.04H765.56V630.39H766.48V604.6H768.42V612.62H769.34V622.94H770.14V630.96H771.63V632.11H773.35V632.11H775.64V612.62H776.56V629.81H777.36V624.08H778.51V630.96H779.66V616.06H780.8V629.81H781.95V625.23H783.09V618.35H784.47V625.23H785.39V632.11H786.19V632.11H790.54V628.67H791.69V613.77H792.49V622.94H793.41V632.11H794.21V632.11H802.01V612.62H803.15V629.81H804.3V632.11H806.02V626.38H807.16V610.33H808.31V621.79H809.46V630.96H810.6V632.11H812.89V622.94H814.04V610.33H814.96V621.79H815.99V632.11H816.68V632.11H838.68V630.39H840.74V615.49H841.55V624.08H842.69V632.11H843.5V632.11H855.3V626.38H856.45V617.21H857.59V626.38H858.74V632.11H859.89V632.1H900V632.1H915V630.45H915.8V621.1H916.7V627.7H917.5V628.25H918.6V632.1H919.2V632.1H1000.5V628.05H1001.3V605.1H1002.2V621.3H1003V622.65H1004.1V632.1H1004.7V632.1H1119.5H1121.8V696.8Z" fill="#ffe8c8"/>
<path d="M710.89 619.5V610.33H711.12V609.18H712.38V556.46H712.61V557.61H713.52V569.07H713.98V569.07H715.47V575.37H715.82V578.81H717.19V581.68H718.91V583.4H720.06V580.53H721.2V582.25H722.92V579.96H724.64V585.11H725.21V589.13H726.59V591.42H728.08V593.14H729.8V594.86H730.95V585.69H731.52V591.99H732.09V591.99H733.81V578.81H734.38V579.38H736.68V585.11H736.91V586.26H738.05V595.43H738.4V607.46H739.54V590.85H740.34V597.72H741.49V610.9H742.18V587.98H743.32V604.6H743.78V620.64H744.7V610.33H745.85V600.01H747.22V603.45H748.14V625.23H749.05V626.95H750.43V603.45H752.15V605.74H753.87V627.52H755.59V605.74H757.31V625.23H758.45V610.33H759.6V622.94H760.74V606.89H761.89V626.38H762.81V630.39H764.18V608.04H765.56V630.39H766.48V604.6H768.42V612.62H769.34V622.94H770.14V630.96H771.63V632.11H773.35V632.11H775.64V612.62H776.56V629.81H777.36V624.08H778.51V630.96H779.66V616.06H780.8V629.81H781.95V625.23H783.09V618.35H784.47V625.23H785.39V632.11H786.19V632.11H790.54V628.67H791.69V613.77H792.49V622.94H793.41V632.11H794.21V632.11H802.01V612.62H803.15V629.81H804.3V632.11H806.02V626.38H807.16V610.33H808.31V621.79H809.46V630.96H810.6V632.11H812.89V622.94H814.04V610.33H814.96V621.79H815.99V632.11H816.68V632.11H838.68V630.39H840.74V615.49H841.55V624.08H842.69V632.11H843.5V632.11H855.3V626.38H856.45V617.21H857.59V626.38H858.74V632.11H859.89V632.1H900V632.1H915V630.45H915.8V621.1H916.7V627.7H917.5V628.25H918.6V632.1H919.2V632.1H1000.5V628.05H1001.3V605.1H1002.2V621.3H1003V622.65H1004.1V632.1H1004.7V632.1H1119.5" fill="none" stroke="#1787ff" stroke-width="1.2" stroke-linejoin="miter"/>
<path d="M710.4 478V704.5M701.6 696.8H1154M701.6 492.1H1121.8V696.8M1141 692.2L1154 696.8L1141 701.4M710.4 676.33h-4.7M710.4 655.86h-8.8M710.4 635.39h-4.7M710.4 614.92h-8.8M710.4 594.45h-4.7M710.4 573.98h-8.8M710.4 553.51h-4.7M710.4 533.04h-8.8M710.4 512.57h-4.7M716.08 696.8v3M721.77 696.8v3M727.45 696.8v3M733.14 696.8v3M738.82 696.8v4.4M744.51 696.8v3M750.19 696.8v3M755.88 696.8v3M761.56 696.8v3M767.25 696.8v7.7M772.93 696.8v3M778.62 696.8v3M784.3 696.8v3M789.99 696.8v3M795.67 696.8v4.4M801.36 696.8v3M807.04 696.8v3M812.73 696.8v3M818.41 696.8v3M824.1 696.8v7.7M829.78 696.8v3M835.47 696.8v3M841.15 696.8v3M846.84 696.8v3M852.52 696.8v4.4M858.21 696.8v3M863.89 696.8v3M869.58 696.8v3M875.26 696.8v3M880.95 696.8v7.7M886.63 696.8v3M892.32 696.8v3M898 696.8v3M903.69 696.8v3M909.38 696.8v4.4M915.06 696.8v3M920.75 696.8v3M926.43 696.8v3M932.12 696.8v3M937.8 696.8v7.7M943.48 696.8v3M949.17 696.8v3M954.86 696.8v3M960.54 696.8v3M966.23 696.8v4.4M971.91 696.8v3M977.6 696.8v3M983.28 696.8v3M988.97 696.8v3M994.65 696.8v7.7M1000.34 696.8v3M1006.02 696.8v3M1011.7 696.8v3M1017.39 696.8v3M1023.08 696.8v4.4M1028.76 696.8v3M1034.44 696.8v3M1040.13 696.8v3M1045.82 696.8v3M1051.5 696.8v7.7M1057.18 696.8v3M1062.87 696.8v3M1068.55 696.8v3M1074.24 696.8v3M1079.92 696.8v4.4M1085.61 696.8v3M1091.3 696.8v3M1096.98 696.8v3M1102.66 696.8v3M1108.35 696.8v7.7M1114.03 696.8v3M1119.72 696.8v3M734.1 492.1V580M734.1 695.2V696.8" class="ax" stroke-width="1.15"/>
<text transform="translate(695.7,699.9) scale(1.4,1)" class="t" text-anchor="end">0</text>
<text transform="translate(695.7,679.43) scale(1.4,1)" class="t" text-anchor="end">0.1</text>
<text transform="translate(695.7,658.96) scale(1.4,1)" class="t" text-anchor="end">0.2</text>
<text transform="translate(695.7,638.49) scale(1.4,1)" class="t" text-anchor="end">0.3</text>
<text transform="translate(695.7,618.02) scale(1.4,1)" class="t" text-anchor="end">0.4</text>
<text transform="translate(695.7,597.55) scale(1.4,1)" class="t" text-anchor="end">0.5</text>
<text transform="translate(695.7,577.08) scale(1.4,1)" class="t" text-anchor="end">0.6</text>
<text transform="translate(695.7,556.61) scale(1.4,1)" class="t" text-anchor="end">0.7</text>
<text transform="translate(695.7,536.14) scale(1.4,1)" class="t" text-anchor="end">0.8</text>
<text transform="translate(695.7,515.67) scale(1.4,1)" class="t" text-anchor="end">0.9</text>
<text transform="translate(695.7,495.2) scale(1.4,1)" class="t" text-anchor="end">1</text>
<text transform="translate(708.8,716.1) scale(1.4,1)" class="t" text-anchor="middle">0</text>
<text transform="translate(765.65,716.1) scale(1.4,1)" class="t" text-anchor="middle">1</text>
<text transform="translate(822.5,716.1) scale(1.4,1)" class="t" text-anchor="middle">2</text>
<text transform="translate(879.35,716.1) scale(1.4,1)" class="t" text-anchor="middle">3</text>
<text transform="translate(936.2,716.1) scale(1.4,1)" class="t" text-anchor="middle">4</text>
<text transform="translate(993.05,716.1) scale(1.4,1)" class="t" text-anchor="middle">5</text>
<text transform="translate(1049.9,716.1) scale(1.4,1)" class="t" text-anchor="middle">6</text>
<text x="1102.55" y="716.1" class="t" textLength="35" lengthAdjust="spacingAndGlyphs">7 mm</text>
<text x="702.2" y="460.1" class="t" textLength="60" lengthAdjust="spacingAndGlyphs">0.413mm</text>
<text x="669" y="474.4" class="t" textLength="26.5" lengthAdjust="spacingAndGlyphs">nm2</text>
<text x="700.6" y="474.4" class="t" textLength="65.6" lengthAdjust="spacingAndGlyphs">(0.513nm)</text>
<text x="696.6" y="744.8" class="t" textLength="96.5" lengthAdjust="spacingAndGlyphs">Zoom factor: ×1</text>
<rect x="1280.3" y="464.2" width="308.8" height="243.8" fill="#00f8a8"/>
<path d="M1280.3 464.2H1589.1V708H1280.3ZM1280.3 464.2v-7.2M1280.3 708v7.2M1286.33 464.2v-2.6M1286.33 708v2.6M1292.36 464.2v-2.6M1292.36 708v2.6M1298.39 464.2v-2.6M1298.39 708v2.6M1304.42 464.2v-2.6M1304.42 708v2.6M1310.45 464.2v-3.8M1310.45 708v3.8M1316.48 464.2v-2.6M1316.48 708v2.6M1322.51 464.2v-2.6M1322.51 708v2.6M1328.54 464.2v-2.6M1328.54 708v2.6M1334.57 464.2v-2.6M1334.57 708v2.6M1340.6 464.2v-7.2M1340.6 708v7.2M1346.63 464.2v-2.6M1346.63 708v2.6M1352.66 464.2v-2.6M1352.66 708v2.6M1358.69 464.2v-2.6M1358.69 708v2.6M1364.72 464.2v-2.6M1364.72 708v2.6M1370.75 464.2v-3.8M1370.75 708v3.8M1376.78 464.2v-2.6M1376.78 708v2.6M1382.81 464.2v-2.6M1382.81 708v2.6M1388.84 464.2v-2.6M1388.84 708v2.6M1394.87 464.2v-2.6M1394.87 708v2.6M1400.9 464.2v-7.2M1400.9 708v7.2M1406.93 464.2v-2.6M1406.93 708v2.6M1412.96 464.2v-2.6M1412.96 708v2.6M1418.99 464.2v-2.6M1418.99 708v2.6M1425.02 464.2v-2.6M1425.02 708v2.6M1431.05 464.2v-3.8M1431.05 708v3.8M1437.08 464.2v-2.6M1437.08 708v2.6M1443.11 464.2v-2.6M1443.11 708v2.6M1449.14 464.2v-2.6M1449.14 708v2.6M1455.17 464.2v-2.6M1455.17 708v2.6M1461.2 464.2v-7.2M1461.2 708v7.2M1467.23 464.2v-2.6M1467.23 708v2.6M1473.26 464.2v-2.6M1473.26 708v2.6M1479.29 464.2v-2.6M1479.29 708v2.6M1485.32 464.2v-2.6M1485.32 708v2.6M1491.35 464.2v-3.8M1491.35 708v3.8M1497.38 464.2v-2.6M1497.38 708v2.6M1503.41 464.2v-2.6M1503.41 708v2.6M1509.44 464.2v-2.6M1509.44 708v2.6M1515.47 464.2v-2.6M1515.47 708v2.6M1521.5 464.2v-7.2M1521.5 708v7.2M1527.53 464.2v-2.6M1527.53 708v2.6M1533.56 464.2v-2.6M1533.56 708v2.6M1539.59 464.2v-2.6M1539.59 708v2.6M1545.62 464.2v-2.6M1545.62 708v2.6M1551.65 464.2v-3.8M1551.65 708v3.8M1557.68 464.2v-2.6M1557.68 708v2.6M1563.71 464.2v-2.6M1563.71 708v2.6M1569.74 464.2v-2.6M1569.74 708v2.6M1575.77 464.2v-2.6M1575.77 708v2.6M1581.8 464.2v-7.2M1581.8 708v7.2M1587.83 464.2v-2.6M1587.83 708v2.6M1280.3 464.2h-9.3M1589.1 464.2h9.3M1280.3 468.97h-3.1M1589.1 468.97h3.1M1280.3 473.73h-3.1M1589.1 473.73h3.1M1280.3 478.5h-3.1M1589.1 478.5h3.1M1280.3 483.26h-3.1M1589.1 483.26h3.1M1280.3 488.03h-4.6M1589.1 488.03h4.6M1280.3 492.8h-3.1M1589.1 492.8h3.1M1280.3 497.56h-3.1M1589.1 497.56h3.1M1280.3 502.33h-3.1M1589.1 502.33h3.1M1280.3 507.09h-3.1M1589.1 507.09h3.1M1280.3 511.86h-9.3M1589.1 511.86h9.3M1280.3 516.63h-3.1M1589.1 516.63h3.1M1280.3 521.39h-3.1M1589.1 521.39h3.1M1280.3 526.16h-3.1M1589.1 526.16h3.1M1280.3 530.92h-3.1M1589.1 530.92h3.1M1280.3 535.69h-4.6M1589.1 535.69h4.6M1280.3 540.46h-3.1M1589.1 540.46h3.1M1280.3 545.22h-3.1M1589.1 545.22h3.1M1280.3 549.99h-3.1M1589.1 549.99h3.1M1280.3 554.75h-3.1M1589.1 554.75h3.1M1280.3 559.52h-9.3M1589.1 559.52h9.3M1280.3 564.29h-3.1M1589.1 564.29h3.1M1280.3 569.05h-3.1M1589.1 569.05h3.1M1280.3 573.82h-3.1M1589.1 573.82h3.1M1280.3 578.58h-3.1M1589.1 578.58h3.1M1280.3 583.35h-4.6M1589.1 583.35h4.6M1280.3 588.12h-3.1M1589.1 588.12h3.1M1280.3 592.88h-3.1M1589.1 592.88h3.1M1280.3 597.65h-3.1M1589.1 597.65h3.1M1280.3 602.41h-3.1M1589.1 602.41h3.1M1280.3 607.18h-9.3M1589.1 607.18h9.3M1280.3 611.95h-3.1M1589.1 611.95h3.1M1280.3 616.71h-3.1M1589.1 616.71h3.1M1280.3 621.48h-3.1M1589.1 621.48h3.1M1280.3 626.24h-3.1M1589.1 626.24h3.1M1280.3 631.01h-4.6M1589.1 631.01h4.6M1280.3 635.78h-3.1M1589.1 635.78h3.1M1280.3 640.54h-3.1M1589.1 640.54h3.1M1280.3 645.31h-3.1M1589.1 645.31h3.1M1280.3 650.07h-3.1M1589.1 650.07h3.1M1280.3 654.84h-9.3M1589.1 654.84h9.3M1280.3 659.61h-3.1M1589.1 659.61h3.1M1280.3 664.37h-3.1M1589.1 664.37h3.1M1280.3 669.14h-3.1M1589.1 669.14h3.1M1280.3 673.9h-3.1M1589.1 673.9h3.1M1280.3 678.67h-4.6M1589.1 678.67h4.6M1280.3 683.44h-3.1M1589.1 683.44h3.1M1280.3 688.2h-3.1M1589.1 688.2h3.1M1280.3 692.97h-3.1M1589.1 692.97h3.1M1280.3 697.73h-3.1M1589.1 697.73h3.1M1280.3 702.5h-9.3M1589.1 702.5h9.3M1280.3 707.27h-3.1M1589.1 707.27h3.1" class="ax" stroke-width="1.3"/>
<text transform="translate(1278.8,451.9) scale(1.4,1)" class="t" text-anchor="middle">0</text>
<text transform="translate(1339.1,451.9) scale(1.4,1)" class="t" text-anchor="middle">1</text>
<text transform="translate(1399.4,451.9) scale(1.4,1)" class="t" text-anchor="middle">2</text>
<text transform="translate(1459.7,451.9) scale(1.4,1)" class="t" text-anchor="middle">3</text>
<text transform="translate(1520,451.9) scale(1.4,1)" class="t" text-anchor="middle">4</text>
<text x="1576.1" y="451.9" class="t" textLength="38" lengthAdjust="spacingAndGlyphs">5 mm</text>
<text transform="translate(1264.7,467.5) scale(1.4,1)" class="t" text-anchor="end">0</text>
<text transform="translate(1264.7,491.33) scale(1.4,1)" class="t" text-anchor="end">0.5</text>
<text transform="translate(1264.7,515.16) scale(1.4,1)" class="t" text-anchor="end">1</text>
<text transform="translate(1264.7,538.99) scale(1.4,1)" class="t" text-anchor="end">1.5</text>
<text transform="translate(1264.7,562.82) scale(1.4,1)" class="t" text-anchor="end">2</text>
<text transform="translate(1264.7,586.65) scale(1.4,1)" class="t" text-anchor="end">2.5</text>
<text transform="translate(1264.7,610.48) scale(1.4,1)" class="t" text-anchor="end">3</text>
<text transform="translate(1264.7,634.31) scale(1.4,1)" class="t" text-anchor="end">3.5</text>
<text transform="translate(1264.7,658.14) scale(1.4,1)" class="t" text-anchor="end">4</text>
<text transform="translate(1264.7,681.97) scale(1.4,1)" class="t" text-anchor="end">4.5</text>
<text transform="translate(1264.7,705.8) scale(1.4,1)" class="t" text-anchor="end">5</text>
<linearGradient id="vl" gradientUnits="userSpaceOnUse" x1="0" y1="464" x2="0" y2="708">
<stop offset="0.0000" stop-color="rgb(0,150,235)"/>
<stop offset="0.0492" stop-color="rgb(0,170,240)"/>
<stop offset="0.0738" stop-color="rgb(0,80,130)"/>
<stop offset="0.1352" stop-color="rgb(0,70,120)"/>
<stop offset="0.1598" stop-color="rgb(0,200,230)"/>
<stop offset="0.1926" stop-color="rgb(0,248,168)"/>
<stop offset="0.2336" stop-color="rgb(0,248,168)"/>
<stop offset="0.2500" stop-color="rgb(150,240,70)"/>
<stop offset="0.3934" stop-color="rgb(170,240,50)"/>
<stop offset="0.4918" stop-color="rgb(190,240,60)"/>
<stop offset="0.5020" stop-color="rgb(255,235,235)"/>
<stop offset="0.5123" stop-color="rgb(190,240,60)"/>
<stop offset="0.7213" stop-color="rgb(150,240,70)"/>
<stop offset="0.7623" stop-color="rgb(0,248,168)"/>
<stop offset="0.7992" stop-color="rgb(0,248,168)"/>
<stop offset="0.8197" stop-color="rgb(0,80,130)"/>
<stop offset="0.9057" stop-color="rgb(0,70,120)"/>
<stop offset="0.9344" stop-color="rgb(0,170,240)"/>
<stop offset="1.0000" stop-color="rgb(0,150,235)"/>
</linearGradient>
<rect x="1433.4" y="464.8" width="1.7" height="242.6" fill="url(#vl)"/>
<text x="1560.8" y="423.7" class="s" textLength="51.8" lengthAdjust="spacingAndGlyphs">Width</text>
<text x="1643.8" y="429.9" class="s" textLength="57.8" lengthAdjust="spacingAndGlyphs">Height</text>
<text x="1238.9" y="727.5" class="t" textLength="23.8" lengthAdjust="spacingAndGlyphs">mm</text>
<text x="1226.4" y="745.2" class="s" textLength="57.2" lengthAdjust="spacingAndGlyphs">Length</text>
<rect x="1648.3" y="445.4" width="24.1" height="282.6" fill="url(#jet)" stroke="#1c1c1c" stroke-width="1.2"/>
<text transform="translate(1685.3,731.1) scale(1.5,1)" class="t">0</text>
<text transform="translate(1685.3,709.67) scale(1.5,1)" class="t">0.005</text>
<text transform="translate(1685.3,688.24) scale(1.5,1)" class="t">0.01</text>
<text transform="translate(1685.3,666.81) scale(1.5,1)" class="t">0.015</text>
<text transform="translate(1685.3,645.38) scale(1.5,1)" class="t">0.02</text>
<text transform="translate(1685.3,623.95) scale(1.5,1)" class="t">0.025</text>
<text transform="translate(1685.3,602.52) scale(1.5,1)" class="t">0.03</text>
<text transform="translate(1685.3,581.09) scale(1.5,1)" class="t">0.035</text>
<text transform="translate(1685.3,559.66) scale(1.5,1)" class="t">0.04</text>
<text transform="translate(1685.3,538.23) scale(1.5,1)" class="t">0.045</text>
<text transform="translate(1685.3,516.8) scale(1.5,1)" class="t">0.05</text>
<text transform="translate(1685.3,495.37) scale(1.5,1)" class="t">0.055</text>
<text transform="translate(1685.3,473.94) scale(1.5,1)" class="t">0.06</text>
<text transform="translate(1685.3,452.51) scale(1.5,1)" class="t">0.065</text>
<path d="M1672.4 727.6h9M1672.4 706.17h9M1672.4 684.74h9M1672.4 663.31h9M1672.4 641.88h9M1672.4 620.45h9M1672.4 599.02h9M1672.4 577.59h9M1672.4 556.16h9M1672.4 534.73h9M1672.4 513.3h9M1672.4 491.87h9M1672.4 470.44h9M1672.4 449.01h9" class="ax"/>
<rect x="1648.3" y="738.8" width="22.7" height="10" fill="#ffff6e" stroke="#1c1c1c" stroke-width="1.1"/>
<text x="1681.4" y="747.1" class="t" textLength="19.8" lengthAdjust="spacingAndGlyphs">NM</text>
</svg></body></html>
